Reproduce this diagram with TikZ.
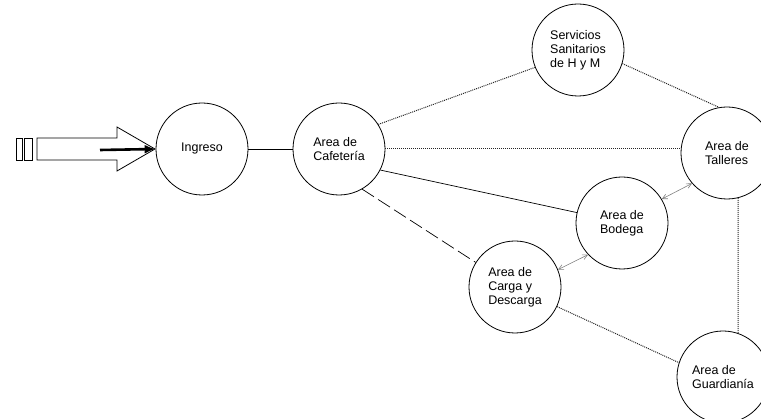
\documentclass[tikz,border=0pt]{standalone}
\usepackage{fontspec}
\setmainfont{Liberation Sans}
\usetikzlibrary{positioning,arrows.meta}

\begin{document}
\begin{tikzpicture}[x=1pt,y=-1pt,
			node distance=40pt,
			on grid,
			area/.style={
				draw,
				circle,
				line width=0.8pt,
				minimum size=92pt,
				inner sep=0pt,
				align=left,
				font=\fontsize{12.5}{14.2}\selectfont},
			link/.style={line width=0.7pt},
			dots/.style={densely dotted,line width=1pt,black!85},
			gaps/.style={dash pattern=on 14pt off 5pt,line width=0.7pt},
			flow/.style={{Straight Barb[length=5pt,width=5pt]}-{Straight Barb[length=5pt,width=5pt]},gray,line width=0.6pt},
			>=Latex]
			
			\useasboundingbox (0,0) rectangle (761,419);
			
			\node[area] (ing) at (202,149) {Ingreso};
			
			\node[area] (caf) [right=137pt of ing] {Area de\\Cafetería};
			
			\node[area] (serv) [above right=99pt and 239pt of caf] {Servicios\\Sanitarios\\de H y M};
			
			\node[area] (tall) [below right=103pt and 149pt of serv] {Area de\\Talleres};
			
			\node[area] (bod) [below left=70pt and 105pt of tall] {Area de\\Bodega};
			
			\node[area] (carga) [below left=64pt and 107pt of bod] {Area de\\Carga y\\Descarga};
			
			\node[area] (guard) [below right=90pt and 208pt of carga] {Area de\\Guardianía};
			
			% entrance arrow
			\draw[line width=0.8pt] (16,138) rectangle (22,160);
			\draw[line width=0.8pt] (24,138) rectangle (32,160);
			\draw[line width=0.8pt] (37,138) -- (117,138) -- (117,127) -- (155,149)
				-- (117,171) -- (117,160) -- (37,160) -- cycle;
			\coordinate (tail) at (100,150);
			\draw[line width=2.6pt,-{Latex[length=11pt,width=9pt]}] (tail) -- (ing.west);
			
			\draw[link] (ing) -- (caf);
			\draw[link] (caf.-27) -- (bod.167);
			\draw[gaps] (caf.-60) -- (carga.148);
			
			\draw[dots] (caf.32) -- (serv.202);
			\draw[dots] (caf.east) -- (caf.east -| tall.west);
			\draw[dots] (serv.-17) -- (tall.100);
			\draw[dots] (tall.-76) -- (guard.71);
			\draw[dots] (carga.-25) -- (guard.162);
			
			\draw[flow] (bod.31) -- (tall.221);
			\draw[flow] (carga.22) -- (bod.223);
			
		\end{tikzpicture}
\end{document}
